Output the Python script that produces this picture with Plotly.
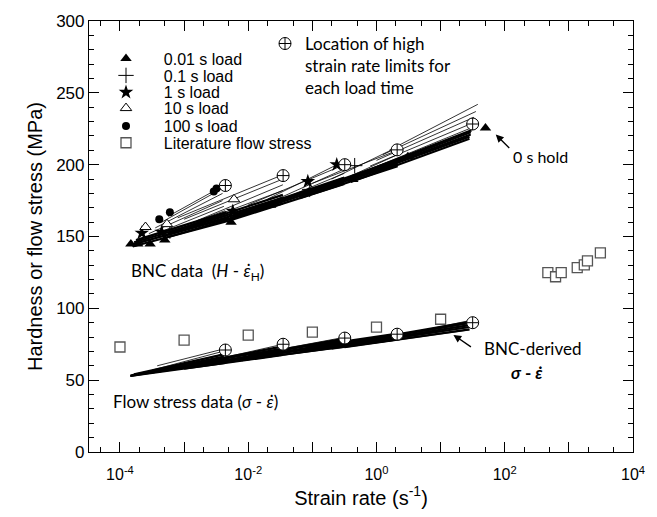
import plotly.graph_objects as go

# ---------------- data (strain rate in 1/s, stress in MPa) ----------------
tri01_x = [1.48e-4, 1.9e-4, 2.95e-4, 5.0e-4, 5.4e-3, 0.0224, 0.087, 0.427, 3.09, 50.1]
tri01_y = [144.8, 144.8, 144.8, 147.6, 160.0, 171.7, 180.7, 189.7, 205.5, 225.5]

plus1_x = [6.0e-4, 0.091, 0.457]
plus1_y = [153.8, 182.8, 199.3]

star1_x = [2.19e-4, 4.47e-4, 5.75e-3, 0.085, 0.24]
star1_y = [152.4, 153.1, 167.6, 188.3, 200.0]

otri10_x = [2.5e-4, 5.4e-4, 6.0e-3]
otri10_y = [156.6, 158.6, 175.9]

circ100_x = [4.1e-4, 6.0e-4, 2.9e-3, 3.2e-3]
circ100_y = [162.0, 166.9, 181.4, 183.4]

lit_x = [1e-4, 1e-3, 1e-2, 1e-1, 1.0, 10.0, 470, 620, 760, 1350, 1740, 1950, 3100]
lit_y = [73.1, 77.9, 81.4, 83.4, 86.9, 92.4, 124.8, 122.0, 124.8, 128.3, 130.3, 133.1, 138.6]

limit_x = [4.4e-3, 0.035, 0.32, 2.1, 31.6]
limit_h = [185.5, 192.4, 200.0, 210.3, 228.3]
limit_s = [71.0, 75.0, 79.3, 82.0, 90.0]

# BNC hardness curves: (rate0, H0, rate1, H1) - dense lower part and thin upper part
bnc_dense = [
    (1.58e-4, 143, 5.01e-3, 161), (1.58e-4, 144.5, 5.01e-3, 163), (1.66e-4, 146, 4.79e-3, 165),
    (1.78e-4, 147.5, 4.57e-3, 167),
    (5.0e-4, 149, 0.0347, 173), (5.0e-4, 150.5, 0.0347, 175), (5.62e-4, 152, 0.0347, 177),
    (6.31e-4, 153.5, 0.0347, 179),
    (5.01e-3, 161, 0.316, 186.5), (5.01e-3, 162.5, 0.316, 188), (5.62e-3, 164, 0.316, 189.5),
    (6.31e-3, 165.5, 0.316, 191),
    (0.0631, 176.6, 2.14, 199), (0.0631, 178, 2.14, 200.5), (0.0708, 179.5, 2.14, 202),
    (0.0794, 181, 2.14, 203.5),
    (0.398, 188, 28.2, 218), (0.398, 189.5, 28.2, 219.5), (0.447, 191, 29.5, 221),
    (0.501, 192.5, 29.5, 222.5), (0.562, 194, 30.2, 224),
]
bnc_thin = [
    (1.91e-4, 145, 4.57e-3, 165), (2.24e-4, 147, 4.37e-3, 168), (2.51e-4, 149, 4.17e-3, 171),
    (2.82e-4, 152, 3.98e-3, 175), (3.55e-4, 156, 3.98e-3, 180), (4.47e-4, 160, 4.17e-3, 184),
    (5.62e-4, 164, 4.37e-3, 186),
    (6.31e-4, 152, 0.0316, 175), (7.94e-4, 154, 0.0331, 177), (1.0e-3, 156, 0.0331, 179),
    (1.26e-3, 158, 0.0347, 182), (1.58e-3, 161, 0.0347, 186), (1.0e-3, 162, 0.0347, 190),
    (7.94e-4, 163, 0.0347, 193),
    (7.94e-3, 164, 0.302, 189), (0.01, 166, 0.302, 191), (0.0126, 168, 0.316, 194),
    (0.0158, 171, 0.316, 197), (0.01, 172, 0.316, 200), (0.02, 176, 0.331, 203),
    (0.1, 180, 2.09, 202), (0.126, 182, 2.09, 204), (0.158, 184, 2.14, 207),
    (0.1, 187, 2.14, 210), (0.2, 190, 2.29, 213),
    (0.631, 194, 30.2, 223), (0.708, 196, 31.6, 226), (0.794, 199, 31.6, 229),
    (1.0, 203, 33.1, 233), (1.26, 207, 35.5, 237), (1.58, 210, 38.0, 242),
]

# BNC-derived flow stress curves: (rate0, sigma0, rate1, sigma1)
flow_dense = [
    (1.45e-4, 53, 4.37e-3, 62), (1.45e-4, 53, 4.37e-3, 63.5), (1.51e-4, 53.3, 4.37e-3, 65),
    (1.58e-4, 53.6, 4.17e-3, 66.5), (1.66e-4, 54, 4.17e-3, 68),
    (1.0e-3, 58, 0.0347, 67.5), (1.0e-3, 59, 0.0347, 69), (1.26e-3, 60, 0.0347, 70.5),
    (1.26e-3, 61, 0.0347, 72), (1.58e-3, 62, 0.0347, 73.5),
    (7.94e-3, 64, 0.316, 73.4), (7.94e-3, 65, 0.316, 75), (0.01, 66, 0.316, 76.5),
    (0.01, 67, 0.316, 78), (0.0126, 68, 0.316, 79),
    (0.0631, 70, 2.14, 78.4), (0.0631, 71, 2.14, 80), (0.0794, 72, 2.14, 81.5),
    (0.0794, 73, 2.14, 82.5),
    (0.316, 73, 28.2, 85.3), (0.316, 74, 28.2, 87), (0.398, 75, 29.5, 88.5),
    (0.398, 76, 30.2, 90), (0.501, 77, 31.6, 91),
]
flow_thin = [
    (1.78e-4, 54, 4.17e-3, 66), (2.24e-4, 55, 3.98e-3, 68), (3.16e-4, 57, 3.98e-3, 70),
    (3.8e-4, 60, 4.37e-3, 72),
    (3.16e-4, 55, 0.0316, 67.5), (5.0e-4, 56.5, 0.0316, 69), (7.94e-4, 58, 0.0331, 71),
    (1.26e-3, 60, 0.0331, 73), (2.0e-3, 62.5, 0.0347, 75),
    (2.51e-3, 60.5, 0.282, 73), (3.98e-3, 62, 0.282, 75), (6.31e-3, 64, 0.302, 77),
    (0.01, 66.5, 0.316, 78.5), (0.0158, 69, 0.331, 80),
    (0.0316, 67, 2.0, 78), (0.0501, 69, 2.0, 79.5), (0.0794, 71, 2.09, 81), (0.126, 73, 2.14, 82.5),
    (0.2, 71.5, 28.2, 85), (0.316, 73, 29.5, 87), (0.501, 75, 30.2, 88.5),
    (0.794, 77, 31.6, 90), (1.26, 79, 32.4, 92),
]

x_major = [1e-4, 1e-3, 1e-2, 1e-1, 1, 10, 100, 1000, 10000]
x_major_text = ["10<sup>-4</sup>", "", "10<sup>-2</sup>", "", "10<sup>0</sup>", "",
                "10<sup>2</sup>", "", "10<sup>4</sup>"]
x_minor = [5e-5, 2e-4, 5e-4, 2e-3, 5e-3, 2e-2, 5e-2, 0.2, 0.5, 2, 5, 20, 50, 200, 500, 2000, 5000]

legend_names = ["0.01 s load", "0.1 s load", "1 s load", "10 s load", "100 s load",
                "Literature flow stress"]
limit_name = "Location of high<br>strain rate limits for<br>each load time"

# ---------------- figure ----------------
AX_FONT = "Liberation Sans, Arial, sans-serif"
TXT_FONT = "Lato, Carlito, Calibri, sans-serif"

L, R, T, B = 89, 24, 17, 65
W, H = 657, 517
pw, ph = W - L - R, H - T - B


def px(x):
    return (x - L) / pw


def py(y):
    return (H - B - y) / ph


fig = go.Figure()


def seg_xy(curves):
    xs, ys = [], []
    for r0, v0, r1, v1 in curves:
        xs += [r0, r1, None]
        ys += [v0, v1, None]
    return xs, ys


for curves, lw in ((bnc_thin, 0.8), (flow_thin, 0.8), (bnc_dense, 2.2), (flow_dense, 2.2)):
    xs, ys = seg_xy(curves)
    fig.add_trace(go.Scatter(x=xs, y=ys, mode="lines", line=dict(color="black", width=lw),
                             showlegend=False, hoverinfo="skip"))

PAD = "\u00a0\u00a0\u00a0\u00a0"
legend_ids = ["legend", "legend3", "legend4", "legend5", "legend6", "legend7"]
marker_specs = [
    dict(symbol="triangle-up", size=10, color="black"),
    dict(symbol="cross-thin-open", size=11, color="black", line=dict(width=1, color="black")),
    dict(symbol="star", size=11, color="black"),
    dict(symbol="triangle-up", size=10, color="white", line=dict(width=1, color="black")),
    dict(symbol="circle", size=8, color="black"),
    dict(symbol="square", size=10, color="white", line=dict(width=1.3, color="#555555")),
]
series = [(tri01_x, tri01_y), (plus1_x, plus1_y), (star1_x, star1_y),
          (otri10_x, otri10_y), (circ100_x, circ100_y), (lit_x, lit_y)]

for (sx, sy), name, mk, lg in zip(series, legend_names, marker_specs, legend_ids):
    fig.add_trace(go.Scatter(x=sx, y=sy, mode="markers", name=PAD + name, legend=lg, marker=mk))

fig.add_trace(go.Scatter(x=limit_x, y=limit_h, mode="markers", name=limit_name, legend="legend2",
                         marker=dict(symbol="circle-cross", size=12, color="white",
                                     line=dict(width=1, color="black"))))
fig.add_trace(go.Scatter(x=limit_x, y=limit_s, mode="markers", showlegend=False,
                         marker=dict(symbol="circle-cross", size=12, color="white",
                                     line=dict(width=1, color="black"))))

ann = []
ann.append(dict(xref="paper", yref="paper", x=px(511), y=py(154), xanchor="left", yanchor="middle",
                text="0 s hold", showarrow=False, font=dict(family=TXT_FONT, size=16, color="black")))
ann.append(dict(xref="paper", yref="paper", x=px(129), y=py(270), xanchor="left", yanchor="middle",
                text="BNC data  (<i>H</i> - <i>ε̇</i><sub>H</sub>)", showarrow=False,
                font=dict(family=TXT_FONT, size=17, color="black")))
ann.append(dict(xref="paper", yref="paper", x=px(111), y=py(401), xanchor="left", yanchor="middle",
                text="Flow stress data (<i>σ</i> - <i>ε̇</i>)", showarrow=False,
                font=dict(family=TXT_FONT, size=17, color="black")))
ann.append(dict(xref="paper", yref="paper", x=px(482), y=py(348), xanchor="left", yanchor="middle",
                text="BNC-derived", showarrow=False, font=dict(family=TXT_FONT, size=17, color="black")))
ann.append(dict(xref="paper", yref="paper", x=px(527), y=py(372), xanchor="center", yanchor="middle",
                text="<b><i>σ</i> - <i>ε̇</i></b>", showarrow=False,
                font=dict(family=TXT_FONT, size=17, color="black")))
# arrows (tips in log10 data coordinates)
ann.append(dict(xref="x", yref="y", x=1.86, y=221.0, ax=15, ay=15, text="", showarrow=True,
                arrowhead=2, arrowsize=1.2, arrowwidth=1.3, arrowcolor="black"))
ann.append(dict(xref="x", yref="y", x=1.20, y=81.5, ax=19, ay=13, text="", showarrow=True,
                arrowhead=2, arrowsize=1.2, arrowwidth=1.3, arrowcolor="black"))

legend_rows = [55, 72, 89, 105, 123, 140]
layout_legends = {}
for lg, row in zip(legend_ids, legend_rows):
    layout_legends[lg] = dict(x=px(106), y=py(row), xanchor="left", yanchor="middle",
                              bgcolor="rgba(0,0,0,0)", borderwidth=0,
                              font=dict(family=AX_FONT, size=16, color="black"),
                              itemclick=False, itemdoubleclick=False)
layout_legends["legend2"] = dict(x=px(265), y=py(22), xanchor="left", yanchor="top", valign="top",
                                 bgcolor="rgba(0,0,0,0)", borderwidth=0,
                                 font=dict(family=TXT_FONT, size=17, color="black"),
                                 itemclick=False, itemdoubleclick=False)

fig.update_layout(
    width=W, height=H,
    margin=dict(l=L, r=R, t=T, b=B),
    paper_bgcolor="white", plot_bgcolor="white",
    font=dict(family=AX_FONT, color="black"),
    annotations=ann,
    showlegend=True,
    xaxis=dict(type="log", range=[-4.483, 4.0],
               tickmode="array", tickvals=x_major, ticktext=x_major_text,
               ticks="inside", ticklen=10, tickwidth=1, tickcolor="black",
               showline=True, linecolor="black", linewidth=1.2, mirror="allticks",
               showgrid=False, zeroline=False, ticklabelstandoff=8,
               tickfont=dict(family=AX_FONT, size=16),
               title=dict(text="Strain rate (s<sup>-1</sup>)", font=dict(family=AX_FONT, size=20), standoff=6),
               minor=dict(tickmode="array", tickvals=x_minor, ticks="inside", ticklen=5,
                          tickwidth=1, tickcolor="black", showgrid=False)),
    yaxis=dict(range=[0, 300], tickmode="linear", tick0=0, dtick=50,
               ticks="inside", ticklen=10, tickwidth=1, tickcolor="black",
               showline=True, linecolor="black", linewidth=1.2, mirror="allticks",
               showgrid=False, zeroline=False,
               tickfont=dict(family=AX_FONT, size=17),
               title=dict(text="Hardness or flow stress (MPa)", font=dict(family=AX_FONT, size=20), standoff=8),
               minor=dict(dtick=10, ticks="inside", ticklen=5, tickwidth=1, tickcolor="black",
                          showgrid=False)),
    **layout_legends,
)

fig.write_html("out.html")
